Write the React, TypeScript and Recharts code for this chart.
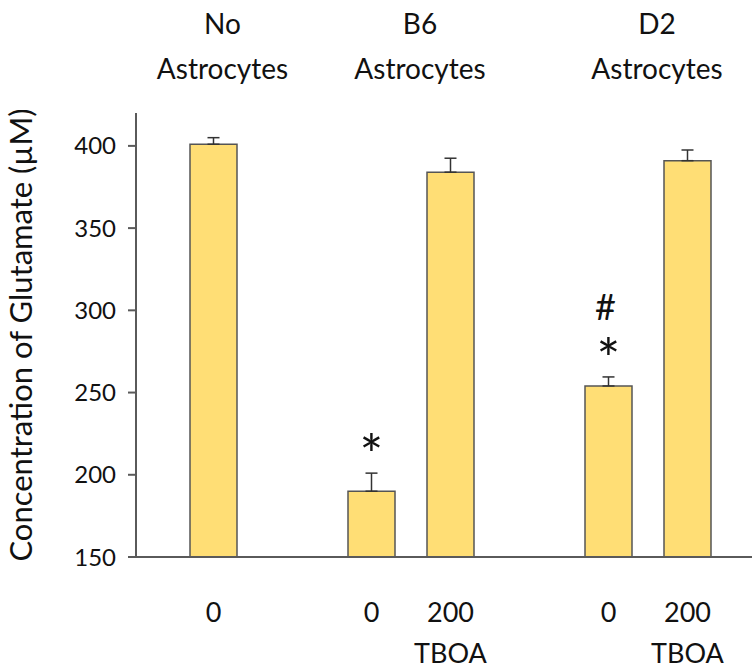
import { BarChart, Bar, XAxis, YAxis, ErrorBar, LabelList } from "recharts";

// one slot per bar, empty slots keep the gaps between the groups
const doses = ["0", "", "0", "200", "", "0", "200"];
const drug = ["", "", "", "TBOA", "", "", "TBOA"];
const glutamate = [401, null, 190, 384, null, 254, 391];
const sem = [4, null, 11, 8.5, null, 5.5, 6.5];
const marks = ["", "", "*", "", "", "*#", ""];

const groupNames = ["No", "B6", "D2"];
const groupStart = [0, 2, 5];
const groupSpan = [1, 2, 2];

const yTicks = [150, 200, 250, 300, 350, 400];
const Y_MIN = 150;
const Y_MAX = 420;

const data = doses.map((d, i) => ({
  slot: i,
  value: glutamate[i],
  err: sem[i] == null ? null : [0, sem[i]],
}));

const FONT = "Lato, 'Open Sans', sans-serif";
const AXIS = "#5a5a5a";
const PLOT_TOP = 113;
const PLOT_BOTTOM = 557;
const BAND = 79;

const BottomTick = ({ x, payload }: any) => (
  <g fontFamily={FONT} fill="#111" fontSize={27}>
    <text x={x} y={622} textAnchor="middle">
      {doses[payload.value]}
    </text>
    <text x={x} y={663} textAnchor="middle">
      {drug[payload.value]}
    </text>
  </g>
);

const TopTick = ({ x, payload }: any) => {
  const g = groupStart.indexOf(payload.value);
  if (g < 0) return null;
  const cx = x + ((groupSpan[g] - 1) * BAND) / 2 + 9;
  return (
    <g fontFamily={FONT} fill="#111" fontSize={28}>
      <text x={cx} y={34} textAnchor="middle">
        {groupNames[g]}
      </text>
      <text x={cx} y={79} textAnchor="middle">
        Astrocytes
      </text>
    </g>
  );
};

const renderMark = (props: any) => {
  const { x, y, width, value } = props;
  const m = marks[value];
  if (!m) return null;
  const errPx = ((sem[value] ?? 0) * (PLOT_BOTTOM - PLOT_TOP)) / (Y_MAX - Y_MIN);
  const cx = x + width / 2;
  const starY = y - errPx - 30;
  return (
    <g fontFamily={FONT} fill="#111">
      {m.split("").map((c, k) =>
        c === "*" ? (
          <text key={k} x={cx} y={starY + 32 - k * 40} textAnchor="middle" fontSize={56}>
            *
          </text>
        ) : (
          <text key={k} x={cx - 3} y={starY - 27 - (k - 1) * 40} textAnchor="middle" fontSize={36}>
            #
          </text>
        )
      )}
    </g>
  );
};

export default function App() {
  return (
    <div style={{ position: "absolute", left: 0, top: 0 }}>
      <BarChart
        width={752}
        height={671}
        data={data}
        margin={{ top: 0, right: 0, bottom: 0, left: 0 }}
      >
        <XAxis
          xAxisId="top"
          orientation="top"
          dataKey="slot"
          height={PLOT_TOP}
          axisLine={false}
          tickLine={false}
          padding={{ left: 38, right: 25 }}
          tick={<TopTick />}
          interval={0}
        />
        <XAxis
          dataKey="slot"
          height={671 - PLOT_BOTTOM}
          axisLine={{ stroke: AXIS, strokeWidth: 2 }}
          tickLine={false}
          padding={{ left: 38, right: 25 }}
          tick={<BottomTick />}
          interval={0}
        />
        <YAxis
          width={136}
          domain={[Y_MIN, Y_MAX]}
          ticks={yTicks}
          interval={0}
          axisLine={{ stroke: AXIS, strokeWidth: 2 }}
          tickLine={{ stroke: AXIS, strokeWidth: 2 }}
          tickSize={8}
          tickMargin={12}
          tick={{ fill: "#111", fontSize: 24, fontFamily: FONT }}
          label={{
            value: "Concentration of Glutamate (µM)",
            angle: -90,
            position: "insideLeft",
            dx: 16,
            dy: 0,
            style: { textAnchor: "middle", fill: "#111", fontSize: 31, fontFamily: FONT },
          }}
        />
        <Bar
          dataKey="value"
          fill="#FFDE75"
          stroke="#555"
          strokeWidth={1.5}
          barSize={47}
          isAnimationActive={false}
        >
          <ErrorBar dataKey="err" width={6} stroke="#333" strokeWidth={1.5} />
          <LabelList dataKey="slot" content={renderMark} />
        </Bar>
      </BarChart>
    </div>
  );
}
